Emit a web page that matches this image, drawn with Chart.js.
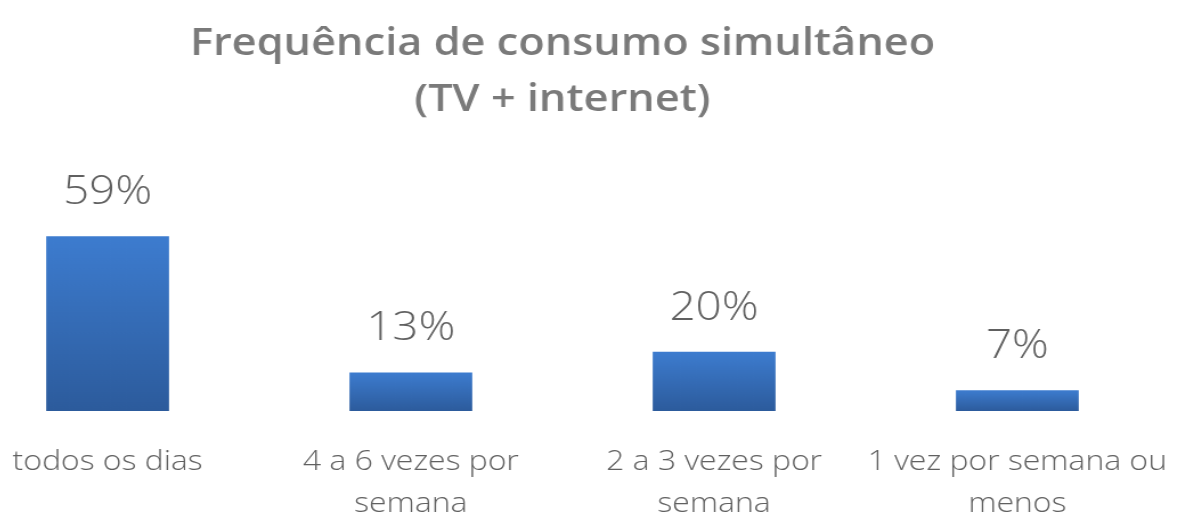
<!DOCTYPE html>
<html lang="pt">
<head>
  <meta charset="UTF-8" />
  <title>Frequência de consumo simultâneo</title>
  <script src="https://cdn.jsdelivr.net/npm/chart.js"></script>
  <style>
    * { margin: 0; padding: 0; box-sizing: border-box; }
    html, body { width: 1178px; height: 517px; overflow: hidden; background: #fff; }
    /* chart is drawn narrower and widened so the glyphs get the broad look */
    .wrap {
      position: absolute; left: -44px; top: 0;
      width: 1064px; height: 555px;
      transform: scaleX(1.14); transform-origin: 0 0;
    }
  </style>
</head>
<body>
  <div class="wrap"><canvas id="chart"></canvas></div>

  <script>
    const categories = [
      'todos os dias',
      ['4 a 6 vezes por', 'semana'],
      ['2 a 3 vezes por', 'semana'],
      ['1 vez por semana ou', 'menos']
    ];
    const values = [59, 13, 20, 7];
    const titleLines = ['Frequência de consumo simultâneo', '(TV + internet)'];

    // each bar gets its own top-to-bottom blue gradient
    function barFill(context) {
      const chart = context.chart;
      if (!chart.chartArea) return '#3467b0';
      const y = chart.scales.y;
      const top = y.getPixelForValue(context.raw);
      const bottom = y.getPixelForValue(0);
      const g = chart.ctx.createLinearGradient(0, top, 0, bottom);
      g.addColorStop(0, '#3d7ccf');
      g.addColorStop(1, '#2c5b9c');
      return g;
    }

    // percentage above every bar
    const valueLabels = {
      id: 'valueLabels',
      afterDatasetsDraw(chart) {
        const ctx = chart.ctx;
        ctx.save();
        ctx.font = '300 40px "Open Sans", sans-serif';
        ctx.fillStyle = '#606060';
        ctx.textAlign = 'center';
        ctx.textBaseline = 'alphabetic';
        chart.getDatasetMeta(0).data.forEach((bar, i) => {
          ctx.fillText(values[i] + '%', bar.x, bar.y - 32);
        });
        ctx.restore();
      }
    };

    new Chart(document.getElementById('chart'), {
      type: 'bar',
      data: {
        labels: categories,
        datasets: [{
          data: values,
          backgroundColor: barFill,
          borderWidth: 0,
          categoryPercentage: 1,
          barPercentage: 0.405
        }]
      },
      options: {
        responsive: true,
        maintainAspectRatio: false,
        animation: false,
        layout: { padding: 0 },
        plugins: {
          legend: { display: false },
          tooltip: { enabled: false },
          title: {
            display: true,
            text: titleLines,
            color: '#7a7a7a',
            font: { family: 'Open Sans', size: 38, weight: 600, lineHeight: '56px' },
            padding: { top: 16, bottom: 46 }
          }
        },
        scales: {
          x: {
            grid: { display: false, drawTicks: false },
            border: { display: false },
            // long labels may spill past the edges; keep the categories full width
            afterFit(scale) {
              scale.paddingLeft = 0;
              scale.paddingRight = 0;
            },
            ticks: {
              color: '#606060',
              padding: 30,
              maxRotation: 0,
              autoSkip: false,
              font: { family: 'Open Sans', size: 28, weight: 300, lineHeight: '42px' }
            }
          },
          y: {
            display: false,
            min: 0,
            max: 80
          }
        }
      },
      plugins: [valueLabels]
    });
  </script>
</body>
</html>
